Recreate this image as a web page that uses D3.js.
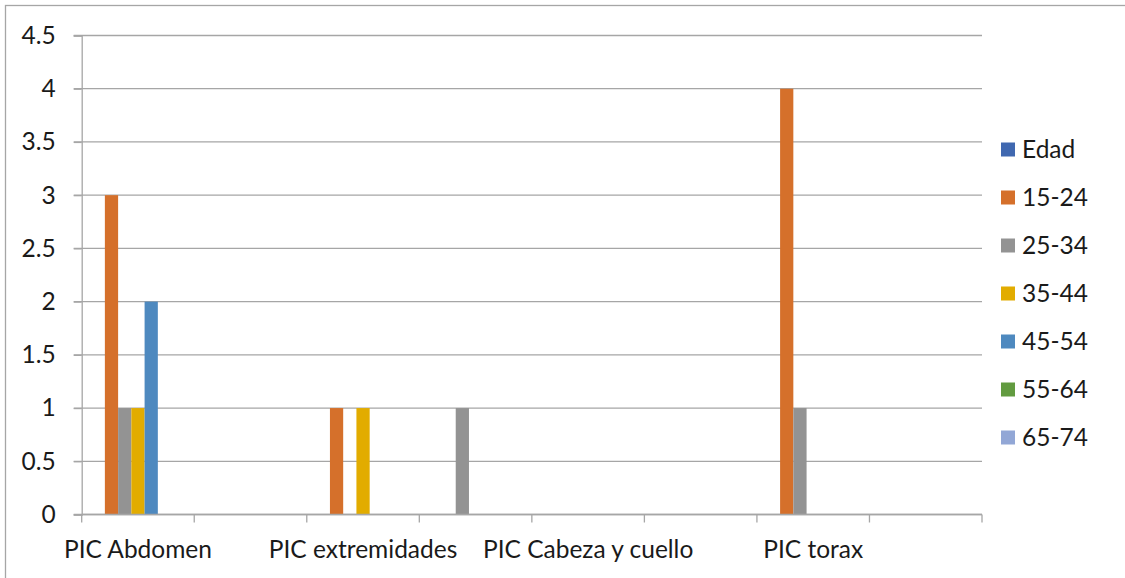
<!DOCTYPE html>
<html>
<head>
<meta charset="utf-8">
<script src="https://cdn.jsdelivr.net/npm/d3@7/dist/d3.min.js"></script>
<style>
  html, body { margin: 0; padding: 0; background: #fff; }
  svg { display: block; }
  text { font-family: Lato, "Open Sans", sans-serif; fill: #1a1a1a; }
</style>
</head>
<body>
<svg id="chart" width="1125" height="578"></svg>
<script>
// Categories (only every other one carries a visible label)
const categories = ["PIC Abdomen", "", "PIC extremidades", "", "PIC Cabeza y cuello", "", "PIC torax", ""];
const seriesNames = ["Edad", "15-24", "25-34", "35-44", "45-54", "55-64", "65-74"];
const seriesColors = ["#4068B0", "#D5702B", "#939393", "#E2AC00", "#4E89BF", "#629B40", "#92A7D6"];

// Values per series, one per category
const edad   = [0, 0, 0, 0, 0, 0, 0, 0];
const age1524 = [3, 0, 1, 0, 0, 0, 4, 0];
const age2534 = [1, 0, 0, 1, 0, 0, 1, 0];
const age3544 = [1, 0, 1, 0, 0, 0, 0, 0];
const age4554 = [2, 0, 0, 0, 0, 0, 0, 0];
const age5564 = [0, 0, 0, 0, 0, 0, 0, 0];
const age6574 = [0, 0, 0, 0, 0, 0, 0, 0];
const seriesValues = [edad, age1524, age2534, age3544, age4554, age5564, age6574];

const yTicks = [0, 0.5, 1, 1.5, 2, 2.5, 3, 3.5, 4, 4.5];

const FONT = 24.5;
const svg = d3.select("#chart");

// Outer chart frame
svg.append("rect")
  .attr("x", 5.5).attr("y", 5.5)
  .attr("width", 1130).attr("height", 590)
  .attr("fill", "none").attr("stroke", "#a6a6a6").attr("stroke-width", 1.3);

const plot = { left: 81.7, right: 982, top: 35.5, bottom: 514.5 };

const x0 = d3.scaleBand()
  .domain(d3.range(categories.length))
  .range([plot.left, plot.right])
  .paddingInner(0).paddingOuter(0);

const x1 = d3.scaleBand()
  .domain(seriesNames)
  .range([0, x0.bandwidth()])
  .paddingInner(0).paddingOuter(0.75);

const y = d3.scaleLinear().domain([0, 4.5]).range([plot.bottom, plot.top]);

// Horizontal gridlines
svg.append("g")
  .selectAll("line")
  .data(yTicks)
  .join("line")
  .attr("x1", plot.left - 8).attr("x2", plot.right)
  .attr("y1", d => y(d)).attr("y2", d => y(d))
  .attr("stroke", "#a6a6a6").attr("stroke-width", 1.3);

// Y axis
const yAxis = svg.append("g")
  .attr("transform", `translate(${plot.left},0)`)
  .call(d3.axisLeft(y).tickValues(yTicks).tickSize(8).tickPadding(18).tickFormat(d3.format("")));
yAxis.select(".domain").attr("stroke", "#a6a6a6").attr("stroke-width", 1.3);
yAxis.selectAll(".tick line").attr("stroke", "#a6a6a6").attr("stroke-width", 1.3);
yAxis.selectAll(".tick text")
  .attr("font-size", FONT).attr("font-family", "Lato, sans-serif").attr("fill", "#1a1a1a");

// Bars
const groups = svg.append("g")
  .selectAll("g")
  .data(seriesNames)
  .join("g")
  .attr("fill", (d, i) => seriesColors[i]);

groups.selectAll("rect")
  .data((name, si) => seriesValues[si].map((v, ci) => ({ name, v, ci })))
  .join("rect")
  .attr("x", d => x0(d.ci) + x1(d.name))
  .attr("width", x1.bandwidth())
  .attr("y", d => y(d.v))
  .attr("height", d => y(0) - y(d.v));

// X axis with category boundary ticks
const xb = svg.append("g").attr("transform", `translate(0,${plot.bottom})`);
xb.append("line")
  .attr("x1", plot.left).attr("x2", plot.right)
  .attr("stroke", "#a6a6a6").attr("stroke-width", 1.3);
const bounds = d3.range(categories.length + 1).map(i => i < categories.length ? x0(i) : plot.right);
xb.selectAll("line.tk")
  .data(bounds)
  .join("line")
  .attr("class", "tk")
  .attr("x1", d => d).attr("x2", d => d)
  .attr("y1", 0).attr("y2", 8)
  .attr("stroke", "#a6a6a6").attr("stroke-width", 1.3);
xb.selectAll("text")
  .data(categories)
  .join("text")
  .attr("x", (d, i) => x0(i) + x0.bandwidth() / 2)
  .attr("y", 43)
  .attr("text-anchor", "middle")
  .attr("font-size", FONT)
  .text(d => d);

// Legend
const legend = svg.append("g")
  .selectAll("g")
  .data(seriesNames)
  .join("g")
  .attr("transform", (d, i) => `translate(1001,${149.5 + i * 48})`);
legend.append("rect")
  .attr("x", 0).attr("y", -7)
  .attr("width", 14).attr("height", 14)
  .attr("fill", (d, i) => seriesColors[i]);
legend.append("text")
  .attr("x", 21).attr("y", 0).attr("dy", "0.36em")
  .attr("font-size", FONT)
  .text(d => d);
</script>
</body>
</html>
